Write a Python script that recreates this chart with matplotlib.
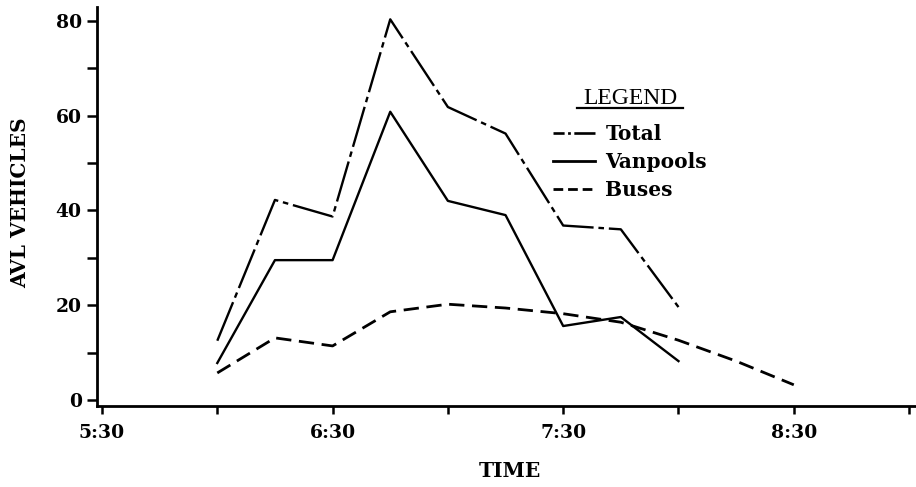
import matplotlib
matplotlib.use("Agg")
import matplotlib.pyplot as plt
from matplotlib.lines import Line2D
from matplotlib.ticker import FixedLocator

plt.rcParams['lines.scale_dashes'] = False

# ---- data ----
times_total = ["6:00", "6:15", "6:30", "6:45", "7:00", "7:15", "7:30", "7:45", "8:00"]
total = [12.5, 42.2, 38.7, 80.3, 61.8, 56.2, 36.8, 36.0, 19.6]

times_van = ["6:00", "6:15", "6:30", "6:45", "7:00", "7:15", "7:30", "7:45", "8:00"]
vanpools = [7.8, 29.5, 29.5, 60.8, 42.0, 39.0, 15.6, 17.5, 8.2]

times_bus = ["6:00", "6:15", "6:30", "6:45", "7:00", "7:15", "7:30", "7:45", "8:00", "8:15", "8:30"]
buses = [5.7, 13.1, 11.4, 18.6, 20.2, 19.4, 18.2, 16.4, 12.6, 8.2, 3.2]

xtick_times = ["5:30", "6:00", "6:30", "7:00", "7:30", "8:00", "8:30", "9:00"]
xtick_labels = ["5:30", "", "6:30", "", "7:30", "", "8:30", ""]
ymajor = [0, 20, 40, 60, 80]
yminor = [10, 30, 50, 70]


def to_min(t):
    h, m = t.split(":")
    return int(h) * 60 + int(m)


fig = plt.figure(figsize=(9.16, 4.87), dpi=100)
ax = fig.add_axes([97 / 916, 81 / 487, 1 - 97 / 916, 399 / 487])

serif_bold = dict(family="DejaVu Serif", weight="bold")

l_total, = ax.plot([to_min(t) for t in times_total], total, color="black", lw=1.7,
                   dashes=(30, 3.5, 4, 3.5), dash_capstyle="butt", label="Total")
l_van, = ax.plot([to_min(t) for t in times_van], vanpools, color="black", lw=1.7,
                 label="Vanpools")
l_bus, = ax.plot([to_min(t) for t in times_bus], buses, color="black", lw=2.0,
                 dashes=(11, 5.5), dash_capstyle="butt", label="Buses")

# legend proxy for the dash-dot pattern (short handle)
h_total = Line2D([], [], color="black", lw=1.9, dashes=(8, 2.5, 2, 2.5, 16, 2),
                 dash_capstyle="butt", label="Total")
h_van = Line2D([], [], color="black", lw=2.0, label="Vanpools")
h_bus = Line2D([], [], color="black", lw=2.0, dashes=(7, 3.5), dash_capstyle="butt",
               label="Buses")

ax.set_xlim(328.7, 541.8)
ax.set_ylim(-1.27, 82.9)

for s in ["top", "right"]:
    ax.spines[s].set_visible(False)
for s in ["left", "bottom"]:
    ax.spines[s].set_linewidth(2.0)

xt = [to_min(t) for t in xtick_times]
ax.set_xticks(xt)
ax.set_xticklabels(xtick_labels)
ax.set_yticks(ymajor)
ax.yaxis.set_minor_locator(FixedLocator(yminor))
ax.tick_params(axis="x", direction="out", length=6, width=1.8, pad=7)
ax.tick_params(axis="y", which="both", direction="out", length=7, width=1.8, pad=4)
for lab in ax.get_xticklabels() + ax.get_yticklabels():
    lab.set_fontfamily("DejaVu Serif")
    lab.set_fontweight("bold")
    lab.set_fontsize(13.5)

fig.text(20 / 916, 1 - 203 / 487, "AVL VEHICLES", rotation=90, ha="center", va="center",
         fontsize=14.5, **serif_bold)
fig.text(510 / 916, 1 - 471 / 487, "TIME", ha="center", va="center",
         fontsize=14.5, **serif_bold)

leg = ax.legend(handles=[h_total, h_van, h_bus], loc="upper left",
                bbox_to_anchor=(553 / 916, 1 - 88 / 487), bbox_transform=fig.transFigure,
                frameon=False, title="LEGEND", handlelength=2.1, handletextpad=0.5,
                labelspacing=0.4, borderpad=0, borderaxespad=0,
                prop=dict(family="DejaVu Serif", weight="bold", size=14.5),
                title_fontproperties=dict(family="Liberation Serif", size=17))
leg._legend_box.sep = 11

fig.canvas.draw()
bb = leg.get_title().get_window_extent()
fig.add_artist(Line2D([bb.x0 - 6, bb.x1 + 6], [bb.y0 + 1, bb.y0 + 1], color="black", lw=1.6,
                      transform=None))

fig.savefig("out.png", dpi=100)
